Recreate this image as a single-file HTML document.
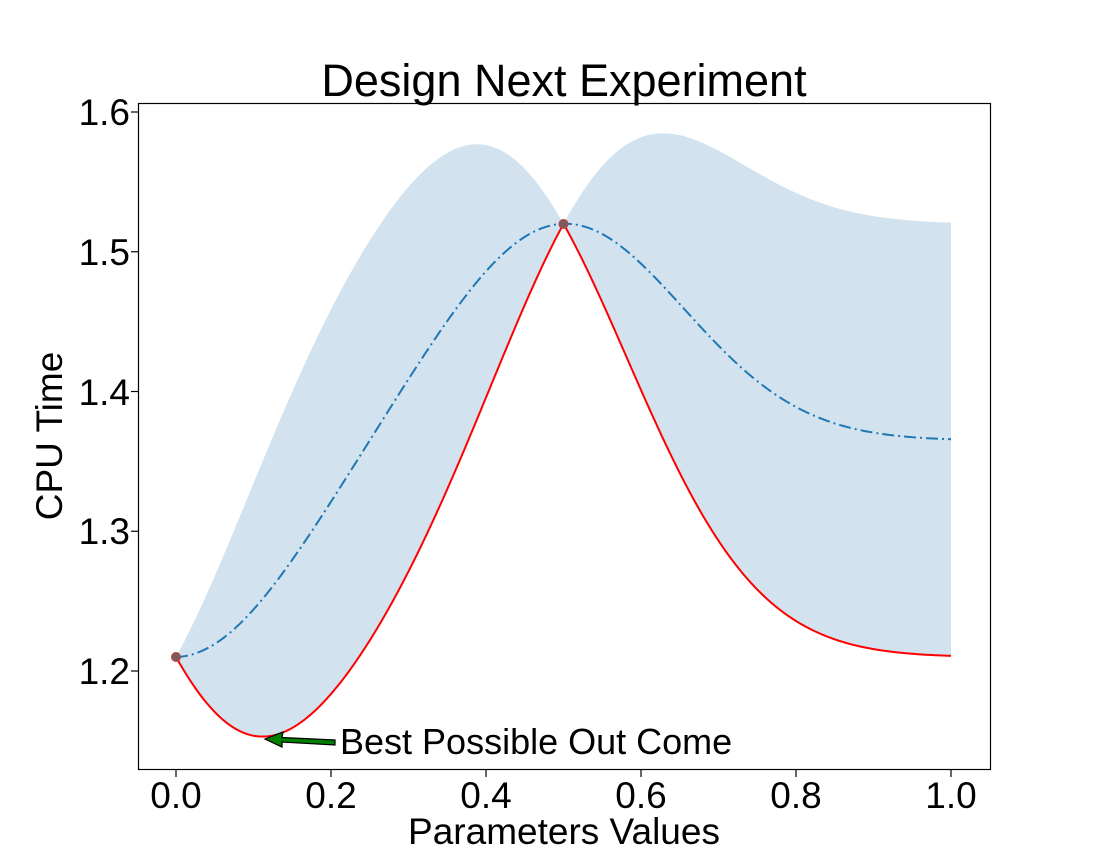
<!DOCTYPE html>
<html><head><meta charset="utf-8"><style>
html,body{margin:0;padding:0;background:#fff;}
svg{display:block;font-family:"Liberation Sans","DejaVu Sans",sans-serif;}
</style></head><body>
<svg id="s" width="1100" height="864" viewBox="0 0 1100 864">
<rect width="1100" height="864" fill="#fff"/>
<path id="band" fill="#d2e3ef" stroke="none"/>
<path id="mean" fill="none" stroke="#1f77b4" stroke-width="2" stroke-dasharray="12,4,2,4"/>
<path id="low" fill="none" stroke="#ff0000" stroke-width="2"/>
<circle cx="176" cy="657" r="4.5" fill="#7f5a5a" stroke="#c04040"/>
<circle cx="563.5" cy="224" r="4.5" fill="#7f5a5a" stroke="#c04040"/>
<rect x="138.5" y="103.5" width="852" height="666" fill="none" stroke="#000" stroke-width="1.2"/>
<g id="ticks" stroke="#000" stroke-width="1.2"></g>
<g font-size="37" fill="#000" text-anchor="middle">
<text x="176" y="808">0.0</text><text x="331" y="808">0.2</text><text x="486" y="808">0.4</text>
<text x="641" y="808">0.6</text><text x="796" y="808">0.8</text><text x="951" y="808">1.0</text>
</g>
<g font-size="37" fill="#000" text-anchor="end">
<text x="130" y="684">1.2</text><text x="130" y="544">1.3</text><text x="130" y="405">1.4</text>
<text x="130" y="265">1.5</text><text x="130" y="125">1.6</text>
</g>
<text x="564" y="844" font-size="37" text-anchor="middle">Parameters Values</text>
<text transform="translate(62,436) rotate(-90)" font-size="37" text-anchor="middle">CPU Time</text>
<text x="564" y="96" font-size="45" text-anchor="middle">Design Next Experiment</text>
<polygon points="335,740 282,737.5 283,732 265,739 282,747 282,742 335,745" fill="#008000" stroke="#000" stroke-width="1.2"/>
<text x="340" y="754" font-size="36">Best Possible Out Come</text>
</svg>
<script>
var X=x=>176+775*x, Y=v=>671-(v-1.2)*1397.5;
var l=0.155, kk=(a,b)=>Math.exp(-(a-b)*(a-b)/(2*l*l));
var k=kk(0,0.5), mu=1.365, sd=0.155;
var up=[],lo=[],me=[];
for(var i=0;i<=400;i++){var x=i/400;var a=kk(x,0),b=kk(x,0.5);
var m=(b-a)/(1-k);
var q=(a*a+b*b-2*k*a*b)/(1-k*k);var s=Math.sqrt(Math.max(0,1-q));
var mv=mu+sd*m, sv=sd*s;
me.push([X(x),Y(mv)]);up.push([X(x),Y(mv+sv)]);lo.push([X(x),Y(mv-sv)]);}
var P=a=>a.map((p,i)=>(i?'L':'M')+p[0].toFixed(2)+','+p[1].toFixed(2)).join('');
document.getElementById('mean').setAttribute('d',P(me));
document.getElementById('low').setAttribute('d',P(lo));
document.getElementById('band').setAttribute('d',P(up)+lo.slice().reverse().map(p=>'L'+p[0].toFixed(2)+','+p[1].toFixed(2)).join('')+'Z');
var t='';[0,.2,.4,.6,.8,1].forEach(v=>{var x=X(v);t+='<line x1="'+x+'" x2="'+x+'" y1="770" y2="777"/>';});
[1.2,1.3,1.4,1.5,1.6].forEach(v=>{var y=Y(v);t+='<line x1="131" x2="138" y1="'+y+'" y2="'+y+'"/>';});
document.getElementById('ticks').innerHTML=t;
</script>
</body></html>
